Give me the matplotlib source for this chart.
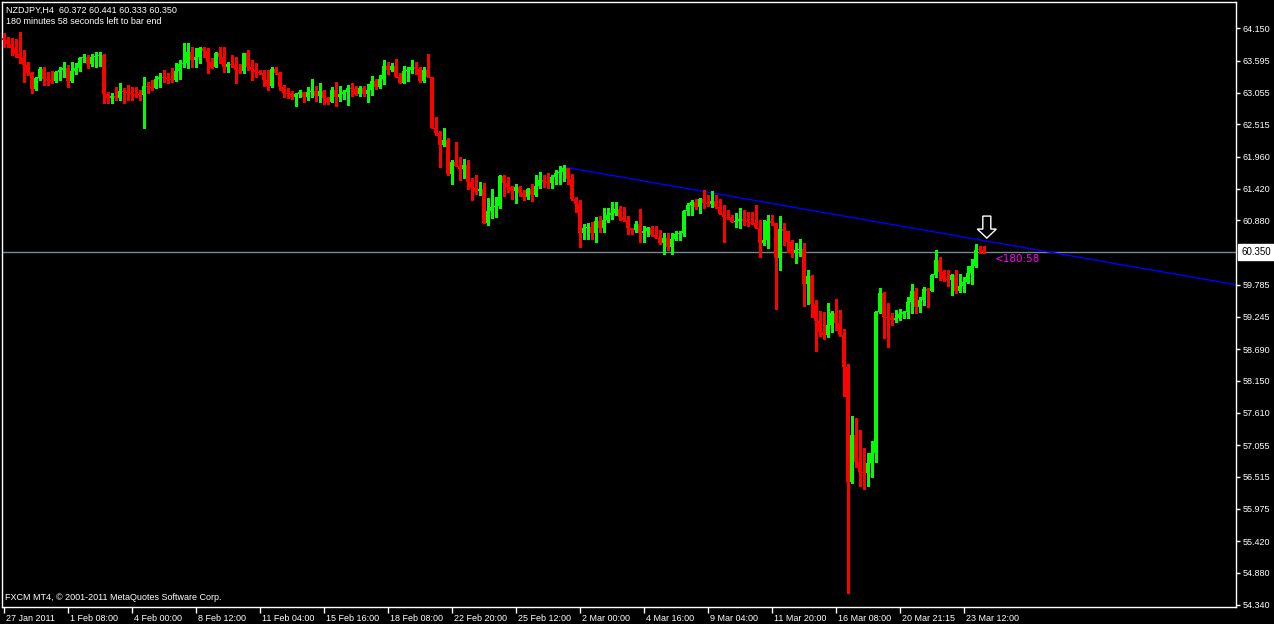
import numpy as np
import matplotlib.pyplot as plt
from matplotlib.patches import Polygon
from matplotlib.transforms import Affine2D, ScaledTranslation

# NZDJPY H4 candles (oldest first)
first_open = 63.985
closes = [
    63.951, 63.883, 63.815, 63.713, 63.645, 63.526, 63.390, 63.117, 63.304, 63.458,
    63.287, 63.270, 63.253, 63.407, 63.441, 63.475, 63.253, 63.424, 63.475, 63.645,
    63.662, 63.543, 63.662, 63.679, 63.696, 63.032, 62.964, 62.998, 62.964, 63.083,
    63.066, 63.049, 63.032, 63.015, 63.010, 63.168, 63.151, 63.134, 63.287, 63.322,
    63.304, 63.287, 63.270, 63.424, 63.543, 63.560, 63.747, 63.611, 63.662, 63.815,
    63.764, 63.577, 63.492, 63.730, 63.662, 63.492, 63.543, 63.526, 63.441, 63.424,
    63.730, 63.492, 63.441, 63.407, 63.390, 63.270, 63.168, 63.458, 63.390, 63.151,
    63.049, 63.032, 62.981, 63.032, 63.066, 62.981, 63.066, 63.083, 62.998, 63.083,
    62.964, 62.896, 63.100, 62.981, 63.032, 63.066, 63.134, 63.117, 63.032, 63.134,
    63.032, 63.100, 63.253, 63.151, 63.287, 63.509, 63.441, 63.509, 63.322, 63.219,
    63.424, 63.441, 63.492, 63.458, 63.253, 63.441, 63.322, 62.453, 62.368, 62.164,
    62.249, 61.671, 61.875, 61.807, 61.756, 61.824, 61.534, 61.432, 61.381, 61.415,
    60.837, 61.041, 61.109, 61.126, 61.636, 61.517, 61.449, 61.381, 61.449, 61.347,
    61.279, 61.415, 61.313, 61.466, 61.568, 61.534, 61.517, 61.619, 61.688, 61.705,
    61.773, 61.585, 61.245, 61.160, 60.666, 60.752, 60.769, 60.666, 60.871, 60.752,
    60.888, 60.973, 61.007, 61.075, 60.939, 60.888, 60.752, 60.717, 60.820, 60.666,
    60.700, 60.752, 60.632, 60.581, 60.496, 60.581, 60.428, 60.564, 60.649, 60.666,
    61.041, 61.143, 61.194, 61.109, 61.245, 61.177, 61.160, 61.211, 61.109, 60.990,
    60.939, 60.922, 60.854, 60.871, 60.905, 60.871, 60.854, 60.837, 60.752, 60.496,
    60.547, 60.871, 60.837, 60.241, 60.735, 60.700, 60.513, 60.326, 60.377, 60.394,
    59.798, 59.935, 59.458, 59.169, 58.981, 58.930, 59.100, 59.305, 59.135, 58.930,
    58.386, 56.428, 57.229, 56.768, 56.598, 56.581, 56.751, 56.921, 59.322, 59.645,
    59.237, 59.220, 59.186, 59.220, 59.288, 59.322, 59.492, 59.679, 59.407, 59.526,
    59.713, 59.679, 59.952, 60.207, 60.003, 59.884, 59.866, 59.952, 59.679, 59.764,
    59.832, 59.986, 60.105, 60.377, 60.372, 60.350,
]
highs = [
    64.070, 64.002, 63.985, 63.968, 64.087, 63.781, 63.577, 63.407, 63.322, 63.492,
    63.492, 63.407, 63.424, 63.424, 63.492, 63.577, 63.526, 63.577, 63.560, 63.662,
    63.713, 63.696, 63.713, 63.747, 63.747, 63.713, 63.066, 63.049, 63.151, 63.219,
    63.134, 63.185, 63.151, 63.151, 63.100, 63.322, 63.236, 63.270, 63.339, 63.390,
    63.441, 63.390, 63.475, 63.560, 63.611, 63.900, 63.900, 63.832, 63.815, 63.832,
    63.832, 63.815, 63.645, 63.747, 63.832, 63.832, 63.577, 63.696, 63.662, 63.543,
    63.730, 63.781, 63.611, 63.560, 63.441, 63.441, 63.441, 63.492, 63.492, 63.407,
    63.185, 63.134, 63.083, 63.049, 63.100, 63.066, 63.151, 63.287, 63.168, 63.219,
    63.100, 62.981, 63.151, 63.236, 63.168, 63.100, 63.185, 63.219, 63.168, 63.168,
    63.168, 63.202, 63.339, 63.287, 63.356, 63.611, 63.577, 63.560, 63.628, 63.390,
    63.509, 63.492, 63.611, 63.577, 63.492, 63.492, 63.713, 63.322, 62.641, 62.402,
    62.453, 62.283, 61.909, 62.215, 61.960, 61.926, 61.909, 61.602, 61.653, 61.534,
    61.517, 61.262, 61.415, 61.279, 61.653, 61.653, 61.619, 61.466, 61.500, 61.466,
    61.398, 61.432, 61.500, 61.653, 61.705, 61.653, 61.688, 61.653, 61.739, 61.807,
    61.824, 61.773, 61.671, 61.279, 61.228, 60.820, 60.837, 60.854, 60.939, 60.956,
    61.092, 61.092, 61.194, 61.194, 61.126, 61.109, 60.956, 60.752, 60.871, 61.075,
    60.786, 60.769, 60.786, 60.786, 60.717, 60.666, 60.666, 60.666, 60.700, 60.700,
    61.058, 61.177, 61.228, 61.245, 61.262, 61.398, 61.313, 61.381, 61.313, 61.245,
    61.143, 61.058, 60.973, 61.007, 61.092, 61.058, 61.024, 61.024, 61.143, 60.888,
    60.888, 60.973, 60.973, 60.837, 60.956, 60.837, 60.700, 60.547, 60.496, 60.564,
    60.496, 60.037, 59.952, 59.526, 59.339, 59.322, 59.475, 59.339, 59.543, 59.356,
    59.032, 58.437, 57.552, 57.518, 57.314, 57.006, 56.921, 57.126, 59.339, 59.730,
    59.662, 59.475, 59.305, 59.356, 59.373, 59.339, 59.577, 59.798, 59.730, 59.577,
    59.747, 59.730, 59.969, 60.377, 60.258, 60.037, 60.037, 59.969, 60.037, 59.969,
    59.918, 60.105, 60.224, 60.479, 60.445, 60.441,
]
lows = [
    63.832, 63.832, 63.696, 63.662, 63.560, 63.236, 63.356, 63.049, 63.100, 63.270,
    63.185, 63.185, 63.219, 63.236, 63.270, 63.322, 63.151, 63.236, 63.373, 63.424,
    63.577, 63.475, 63.509, 63.492, 63.509, 62.879, 62.879, 62.879, 62.930, 62.930,
    62.879, 62.930, 62.930, 62.981, 62.930, 62.453, 63.049, 63.100, 63.134, 63.151,
    63.236, 63.219, 63.236, 63.253, 63.287, 63.492, 63.475, 63.492, 63.492, 63.560,
    63.662, 63.390, 63.475, 63.492, 63.560, 63.407, 63.407, 63.492, 63.219, 63.390,
    63.390, 63.441, 63.270, 63.322, 63.373, 63.168, 63.100, 63.151, 63.373, 63.100,
    62.981, 62.964, 62.947, 62.828, 62.981, 62.896, 62.930, 62.981, 62.913, 62.896,
    62.862, 62.862, 62.896, 62.828, 62.913, 62.947, 62.845, 62.998, 63.015, 62.998,
    62.998, 62.896, 63.015, 63.117, 63.134, 63.202, 63.373, 63.424, 63.322, 63.219,
    63.219, 63.253, 63.390, 63.373, 63.236, 63.236, 63.322, 62.453, 62.334, 61.790,
    62.147, 61.653, 61.500, 61.807, 61.568, 61.602, 61.415, 61.228, 61.330, 61.313,
    60.837, 60.803, 60.922, 60.939, 61.092, 61.296, 61.364, 61.245, 61.177, 61.296,
    61.228, 61.245, 61.211, 61.296, 61.432, 61.449, 61.432, 61.432, 61.500, 61.500,
    61.551, 61.500, 61.228, 61.024, 60.428, 60.564, 60.564, 60.564, 60.513, 60.683,
    60.683, 60.854, 60.905, 60.973, 60.888, 60.871, 60.649, 60.649, 60.683, 60.513,
    60.513, 60.615, 60.615, 60.581, 60.479, 60.309, 60.377, 60.309, 60.547, 60.547,
    60.615, 60.973, 60.973, 61.075, 61.007, 61.092, 61.126, 61.109, 61.092, 60.990,
    60.513, 60.905, 60.854, 60.769, 60.752, 60.803, 60.786, 60.820, 60.752, 60.258,
    60.462, 60.411, 60.803, 59.373, 60.037, 60.462, 60.343, 60.258, 60.156, 60.275,
    59.424, 59.458, 59.237, 58.658, 58.913, 58.862, 58.896, 58.981, 59.015, 58.913,
    57.892, 54.539, 56.411, 56.683, 56.360, 56.309, 56.360, 56.513, 56.768, 59.305,
    58.879, 58.726, 59.100, 59.152, 59.186, 59.220, 59.220, 59.305, 59.305, 59.322,
    59.441, 59.407, 59.679, 59.918, 59.866, 59.849, 59.764, 59.611, 59.645, 59.662,
    59.662, 59.815, 59.798, 60.088, 60.326, 60.333,
]

price_ticks = [64.150, 63.595, 63.055, 62.515, 61.960, 61.420, 60.880, 59.785,
               59.245, 58.690, 58.150, 57.610, 57.055, 56.515, 55.975, 55.420,
               54.880, 54.340]
bid = 60.350
date_ticks = list(range(0, 241, 16))
date_labels = ['27 Jan 2011', '1 Feb 08:00', '4 Feb 00:00', '8 Feb 12:00',
               '11 Feb 04:00', '15 Feb 16:00', '18 Feb 08:00', '22 Feb 20:00',
               '25 Feb 12:00', '2 Mar 00:00', '4 Mar 16:00', '9 Mar 04:00',
               '11 Mar 20:00', '16 Mar 08:00', '20 Mar 21:15', '23 Mar 12:00']

trend_bars = [140, 244]
trend_prices = [61.79, 60.55]
arrow_bar = 245.8
arrow_price = 60.58

header = 'NZDJPY,H4  60.372 60.441 60.333 60.350'
timer_line = '180 minutes 58 seconds left to bar end'
timer_label = '<180:58'
copyright_text = 'FXCM MT4, \u00a9 2001-2011 MetaQuotes Software Corp.'

font = 'Liberation Sans'
fs = 6.5

fig = plt.figure(figsize=(12.74, 6.24), dpi=100, facecolor='black')
ax = fig.add_axes([2 / 1274, 17 / 624, 1234 / 1274, 605 / 624], facecolor='black')
ax.set_xlim(-0.425, 308.1)
ax.set_ylim(54.301, 64.598)

c = np.array(closes)
o = np.r_[first_open, c[:-1]]
x = np.arange(len(c))
cols = np.where(c >= o, '#00ff00', '#ff0000')

ax.axhline(bid, color='#778899', lw=1, zorder=1)

# trend line drawn as a ray from its first anchor
slope = (trend_prices[1] - trend_prices[0]) / (trend_bars[1] - trend_bars[0])
x_end = ax.get_xlim()[1]
ax.plot([trend_bars[0], x_end],
        [trend_prices[0], trend_prices[0] + slope * (x_end - trend_bars[0])],
        color='#0000ff', lw=1, zorder=2)

ax.vlines(x, lows, highs, colors=cols, lw=1, antialiased=False, zorder=3)
ax.bar(x, np.maximum(np.abs(c - o), 0.017), bottom=np.minimum(o, c), width=0.75,
       color=cols, linewidth=0, antialiased=False, zorder=4)

# hollow down arrow, sizes in pixels around its tip
arrow_px = np.array([[0, 0], [-9.5, 9], [-4, 9], [-4, 22], [4, 22], [4, 9], [9.5, 9]])
arrow_tr = (Affine2D().scale(1 / 100) + fig.dpi_scale_trans
            + ScaledTranslation(arrow_bar, arrow_price, ax.transData))
ax.add_patch(Polygon(arrow_px, closed=True, facecolor='black', edgecolor='white',
                     lw=1, transform=arrow_tr, zorder=6, clip_on=False))

timer = ax.text(len(c) + 1.8, bid, timer_label, color='#ff00ff', fontsize=7.5,
                family='DejaVu Sans', va='top', ha='left', zorder=6)
timer.set_transform(ax.transData + ScaledTranslation(0, -2 / 100, fig.dpi_scale_trans))

for s in ax.spines.values():
    s.set_color('white')
    s.set_linewidth(1)

ax.yaxis.tick_right()
ax.set_yticks(price_ticks)
ax.set_yticklabels(['%.3f' % p for p in price_ticks], family=font)
ax.tick_params(axis='y', colors='white', direction='out', length=3, width=1,
               labelsize=fs, pad=2)
ax.text(1.0042, bid, '%.3f' % bid, transform=ax.get_yaxis_transform(),
        color='black', fontsize=7, family=font, va='center', ha='left',
        bbox=dict(boxstyle='square,pad=0.3', fc='white', ec='white'))

ax.set_xticks(date_ticks)
ax.set_xticklabels(date_labels, ha='left', family=font)
ax.tick_params(axis='x', colors='white', direction='out', length=4, width=1,
               labelsize=fs, pad=1)
shift = ScaledTranslation(2 / 100, 0, fig.dpi_scale_trans)
for lab in ax.get_xticklabels():
    lab.set_transform(lab.get_transform() + shift)

fig.text(6 / 1274, 1 - 10 / 624, header, color='white', fontsize=fs, family=font,
         va='center', ha='left')
fig.text(6 / 1274, 1 - 21 / 624, timer_line, color='white', fontsize=fs, family=font,
         va='center', ha='left')
fig.text(5 / 1274, 1 - 598 / 624, copyright_text, color='white', fontsize=fs,
         family=font, va='center', ha='left')

fig.savefig('out.png', dpi=100, facecolor='black')
